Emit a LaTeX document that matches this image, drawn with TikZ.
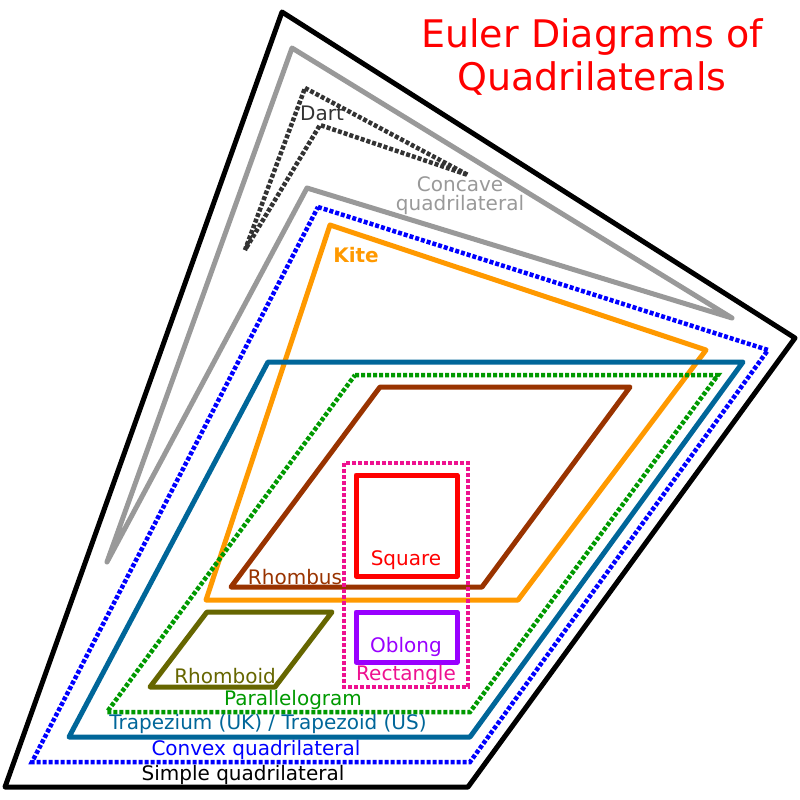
\documentclass[tikz,border=0pt]{standalone}
\usepackage{fontspec}
\setmainfont{DejaVu Sans}
\definecolor{kiteorange}{HTML}{FF9900}
\definecolor{trapteal}{HTML}{006699}
\definecolor{paragreen}{HTML}{009900}
\definecolor{rhombrown}{HTML}{993300}
\definecolor{rhomolive}{HTML}{666600}
\definecolor{rectpink}{HTML}{EE1190}
\definecolor{oblpurple}{HTML}{9900FF}
\definecolor{concgray}{HTML}{999999}
\definecolor{dartgray}{HTML}{333333}

\begin{document}
\begin{tikzpicture}[x=1pt, y=-1pt,
  solidquad/.style={line width=5pt, line join=round, line cap=round},
  dotquad/.style={line width=4.5pt, dash pattern=on 4pt off 2pt},
  setname/.style={font=\fontsize{20}{22}\selectfont, inner sep=0pt}]
\useasboundingbox (0,0) rectangle (800,800);

% simple and concave
\draw[solidquad, black] (282,12) -- (795,338) -- (468,787) -- (5,787) -- cycle;
\draw[solidquad, concgray] (292,48) -- (732,318) -- (307,188) -- (107,562) -- cycle;
\draw[dotquad, dartgray] (305,88) -- (468,175) -- (320,125) -- (245,250) -- cycle;

% convex ones
\draw[dotquad, blue] (318,207) -- (768,350) -- (470,762) -- (32,762) -- cycle;
\draw[solidquad, kiteorange] (330,225) -- (706,350) -- (518,600) -- (206,600) -- cycle;
\draw[solidquad, trapteal] (268,362) -- (743,362) -- (470,737) -- (69,737) -- cycle;
\draw[dotquad, paragreen] (355,375) -- (718,375) -- (470,712) -- (107,712) -- cycle;
\draw[solidquad, rhombrown] (380,387) -- (630,387) -- (482,587) -- (231,587) -- cycle;
\draw[solidquad, rhomolive] (207,612) -- (332,612) -- (275,687) -- (150,687) -- cycle;
\draw[dotquad, rectpink] (344,463) rectangle (468,687);
\draw[solidquad, red] (356,475) rectangle (457,576);
\draw[solidquad, oblpurple] (356,612) rectangle (457,662);

% names
\node[setname, dartgray] (dart) at (322,113) {Dart};
\node[setname, concgray, align=center, font=\fontsize{20}{19}\selectfont] (concave) at (460,196) {Concave\\quadrilateral};
\node[setname, kiteorange, font=\bfseries\fontsize{20}{22}\selectfont] (kite) at (356,255) {Kite};
\node[setname, red] (square) at (406,560) {Square};
\node[setname, oblpurple] (oblong) at (406,647) {Oblong};
\node[setname, rectpink] (rectangle) at (406,675) {Rectangle};
\node[setname, rhombrown] (rhombus) at (295,577) {Rhombus};
\node[setname, rhomolive] (rhomboid) at (225,676) {Rhomboid};
\node[setname, paragreen] (parallelogram) at (293,700) {Parallelogram};
\node[setname, trapteal] (trapezium) at (268,724) {Trapezium (UK) / Trapezoid (US)};
\node[setname, blue] (convex) at (256,750) {Convex quadrilateral};
\node[setname, black] (simple) at (243,775) {Simple quadrilateral};
\node[red, align=center, inner sep=0pt, font=\fontsize{38}{43}\selectfont] (title) at (592,57) {Euler Diagrams of\\Quadrilaterals};
\end{tikzpicture}
\end{document}
